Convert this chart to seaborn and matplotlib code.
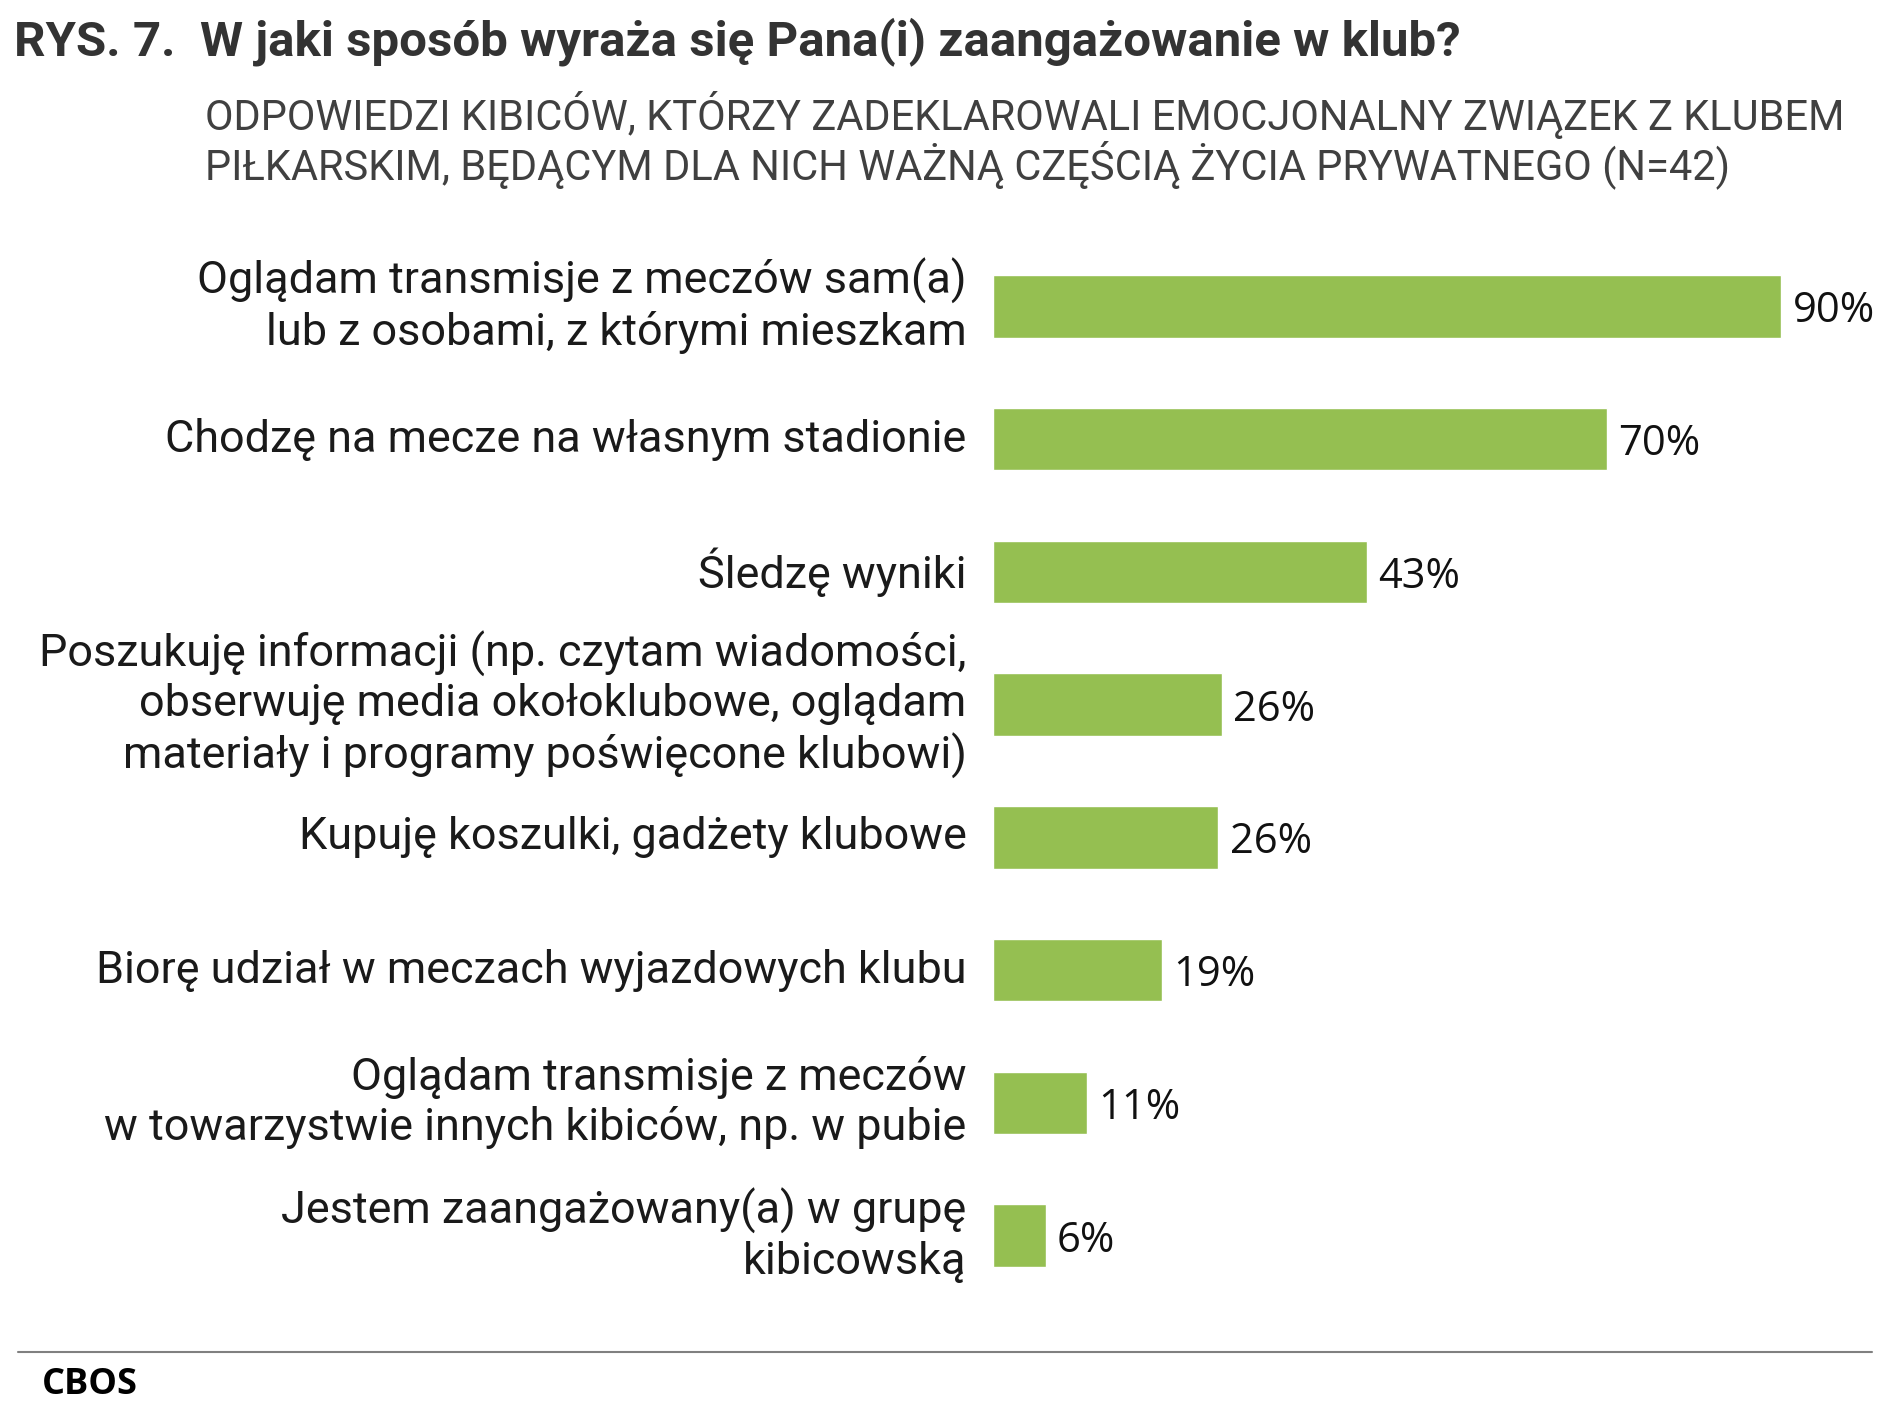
import numpy as np
import matplotlib
matplotlib.use('Agg')
import matplotlib.pyplot as plt
from matplotlib.lines import Line2D
import pandas as pd
import seaborn as sns

categories = [
    'Oglądam transmisje z meczów sam(a)\nlub z osobami, z którymi mieszkam',
    'Chodzę na mecze na własnym stadionie',
    'Śledzę wyniki',
    'Poszukuję informacji (np. czytam wiadomości,\nobserwuję media okołoklubowe, oglądam\nmateriały i programy poświęcone klubowi)',
    'Kupuję koszulki, gadżety klubowe',
    'Biorę udział w meczach wyjazdowych klubu',
    'Oglądam transmisje z meczów\nw towarzystwie innych kibiców, np. w pubie',
    'Jestem zaangażowany(a) w grupę\nkibicowską',
]
values = [90, 70, 43, 26, 26, 19, 11, 6]
# bar lengths as drawn (labels are rounded)
lengths = [89.9, 70.0, 42.7, 26.1, 25.7, 19.3, 10.7, 6.0]

title = 'RYS. 7.  W jaki sposób wyraża się Pana(i) zaangażowanie w klub?'
subtitle = ['ODPOWIEDZI KIBICÓW, KTÓRZY ZADEKLAROWALI EMOCJONALNY ZWIĄZEK Z KLUBEM',
            'PIŁKARSKIM, BĘDĄCYM DLA NICH WAŻNĄ CZĘŚCIĄ ŻYCIA PRYWATNEGO (N=42)']
source = 'CBOS'

sns.set_theme(style='white')
plt.rcParams['font.family'] = ['Roboto', 'DejaVu Sans']

df = pd.DataFrame({'cat': categories, 'val': lengths})

W, H = 1891, 1416
fig = plt.figure(figsize=(W / 100, H / 100), dpi=100)
ax = fig.add_axes([993 / W, 1 - 1302 / H, 877 / W, 1062 / H])

sns.barplot(data=df, x='val', y='cat', orient='h', color='#95BF51',
            saturation=1, width=0.47, ax=ax)
ax.set_xlim(0, 100)
ax.set_ylim(7.5, -0.5)
for s in ax.spines.values():
    s.set_visible(False)
ax.set_xticks([])
ax.set_xlabel('')
ax.set_ylabel('')
ax.tick_params(axis='y', length=0, pad=19, labelsize=32.4, labelcolor='#1a1a1a')
for lab in ax.get_yticklabels():
    lab.set_verticalalignment('center')

pct = ax.bar_label(ax.containers[0], labels=[f'{v}%' for v in values], padding=8,
                   fontsize=30, color='#111111', family=['Open Sans', 'DejaVu Sans'])
for t in pct:
    t.set_verticalalignment('center_baseline')

fig.text(14 / W, 1 - 42 / H, title, fontsize=35.5, fontweight='bold',
         color='#333333', va='center', ha='left')
fig.text(205 / W, 1 - 115 / H, subtitle[0], fontsize=30, color='#404040',
         va='center', ha='left')
fig.text(205 / W, 1 - 165 / H, subtitle[1], fontsize=30, color='#404040',
         va='center', ha='left')

fig.add_artist(Line2D([18 / W, 1872 / W], [1 - 1352 / H, 1 - 1352 / H],
                      color='#808080', lw=1.5))
fig.text(42 / W, 1 - 1385 / H, source, fontsize=26, fontweight='bold',
         color='#000000', va='center', ha='left',
         family=['Open Sans', 'DejaVu Sans'])

fig.savefig('out.png', dpi=100)
